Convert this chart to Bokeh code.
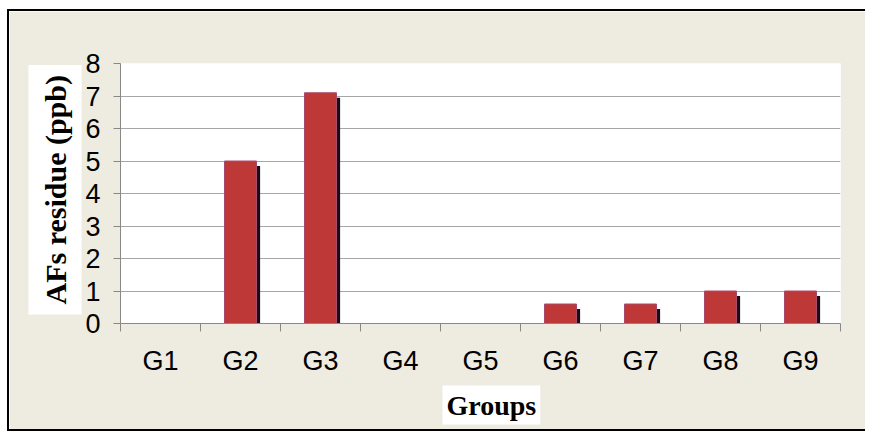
from bokeh.plotting import figure
from bokeh.layouts import column
from bokeh.models import FixedTicker, Range1d, Title, ColumnDataSource
from bokeh.transform import dodge
from bokeh.embed import file_html
from bokeh.resources import INLINE

groups = ["G1", "G2", "G3", "G4", "G5", "G6", "G7", "G8", "G9"]
residue = [0, 5.0, 7.1, 0, 0, 0.6, 0.6, 1.0, 1.0]
y_ticks = [0, 1, 2, 3, 4, 5, 6, 7, 8]

pos = [i + 0.5 for i in range(len(groups))]
src = ColumnDataSource(dict(x=pos, top=residue, g=groups))

W, H = 856, 418
p = figure(width=W, height=H, x_range=Range1d(0, len(groups)), y_range=Range1d(0, 8),
           output_backend="svg", toolbar_location=None,
           min_border_left=111, min_border_right=25, min_border_top=52, min_border_bottom=105)

p.background_fill_color = "white"
p.border_fill_color = "#EEECE1"
p.outline_line_color = None
p.xgrid.visible = False
p.ygrid.ticker = FixedTicker(ticks=y_ticks)
p.ygrid.grid_line_color = "#A6A6A6"
p.ygrid.grid_line_width = 1

ya = p.yaxis[0]
ya.ticker = FixedTicker(ticks=y_ticks, minor_ticks=[])
ya.axis_line_color = "#888888"
ya.major_tick_line_color = "#888888"
ya.major_tick_out = 7
ya.major_tick_in = 0
ya.minor_tick_out = 0
ya.major_label_text_font = "Liberation Sans"
ya.major_label_text_font_size = "27px"
ya.major_label_text_color = "black"
ya.major_label_standoff = 13

xa = p.xaxis[0]
xa.ticker = FixedTicker(ticks=pos, minor_ticks=list(range(len(groups) + 1)))
xa.major_label_overrides = {pos[i]: groups[i] for i in range(len(groups))}
xa.axis_line_color = "#888888"
xa.major_tick_out = 0
xa.major_tick_in = 0
xa.minor_tick_out = 8
xa.minor_tick_in = 0
xa.minor_tick_line_color = "#888888"
xa.major_label_text_font = "Liberation Sans"
xa.major_label_text_font_size = "27px"
xa.major_label_text_color = "black"
xa.major_label_standoff = 14

# shadow
p.vbar(x=dodge("x", 0.045, range=p.x_range), top=dodge("top", -0.15), bottom=0, width=0.4,
       source=src, fill_color="#1A0A12", line_color=None)
# bars
p.vbar(x="x", top="top", bottom=0, width=0.4, source=src,
       fill_color="#BE3837", line_color="#A84A6E", line_width=1)

yt = Title(text="AFs residue (ppb)", align="left", offset=9,
           text_font="Liberation Serif", text_font_style="bold", text_font_size="30px",
           text_color="black", background_fill_color="white", padding=10, standoff=2)
xt = Title(text="Groups", align="left", offset=322,
           text_font="Liberation Serif", text_font_style="bold", text_font_size="28px",
           text_color="black", background_fill_color="white", padding=4, standoff=10)
p.add_layout(yt, "left")
p.add_layout(xt, "below")

lay = column(p, styles={"margin-left": "7px", "margin-top": "9px",
                        "border-left": "2px solid black", "border-top": "2px solid black",
                        "border-bottom": "2px solid black"})

open("out.html", "w").write(file_html(lay, INLINE))
